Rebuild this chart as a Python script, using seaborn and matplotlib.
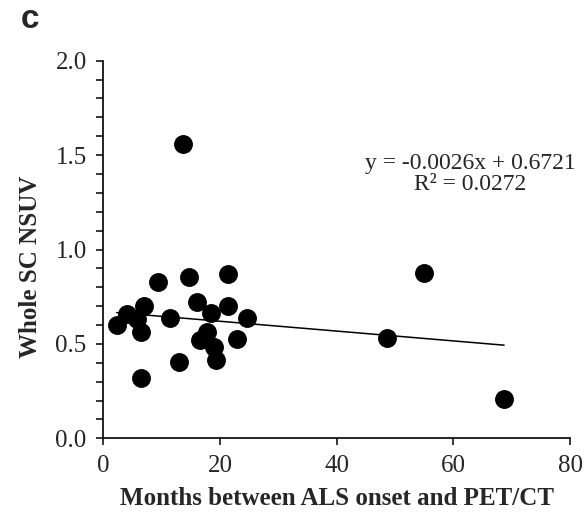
import matplotlib
matplotlib.use("Agg")
import matplotlib.pyplot as plt
from matplotlib.ticker import MultipleLocator, FormatStrFormatter
import seaborn as sns
import pandas as pd
import numpy as np

# months between ALS onset and PET/CT vs whole spinal cord NSUV
months = [2.3, 4.1, 5.7, 7.0, 6.5, 6.5, 9.4, 11.4, 12.9, 13.7,
          14.75, 16.0, 16.6, 17.7, 18.4, 18.9, 19.3, 21.3, 21.3, 22.9,
          24.6, 48.6, 54.9, 68.7]
nsuv = [0.60, 0.66, 0.63, 0.70, 0.565, 0.32, 0.83, 0.64, 0.405, 1.56,
        0.856, 0.72, 0.52, 0.565, 0.665, 0.485, 0.415, 0.87, 0.70, 0.524,
        0.636, 0.53, 0.877, 0.207]

slope = -0.0026
intercept = 0.6721
r_squared = 0.0272

df = pd.DataFrame({"months": months, "nsuv": nsuv})
fit_x = np.array([min(months), max(months)])
fit = pd.DataFrame({"months": fit_x, "nsuv": slope * fit_x + intercept})

sns.set_style("ticks")
plt.rcParams["font.family"] = ["Liberation Serif", "DejaVu Serif"]

fig = plt.figure(figsize=(5.88, 5.2), dpi=100)
ax = fig.add_axes([0.1757, 0.157, 0.7937, 0.7263])

sns.lineplot(data=fit, x="months", y="nsuv", ax=ax, color="black", linewidth=1.1)
sns.scatterplot(data=df, x="months", y="nsuv", ax=ax, color="black",
                s=185, linewidth=0, zorder=3)

ax.set_xlim(0, 80)
ax.set_ylim(0, 2.0)
ax.xaxis.set_major_locator(MultipleLocator(20))
ax.yaxis.set_major_locator(MultipleLocator(0.5))
ax.yaxis.set_minor_locator(MultipleLocator(0.1))
ax.yaxis.set_major_formatter(FormatStrFormatter("%.1f"))
ax.tick_params(axis="both", which="both", direction="out", length=5,
               width=1.1, color="black", labelsize=18, pad=7)
for side in ["left", "bottom"]:
    ax.spines[side].set_linewidth(1.2)
    ax.spines[side].set_color("black")
sns.despine(ax=ax)

ax.set_xlabel("Months between ALS onset and PET/CT", fontsize=18,
              fontweight="bold", labelpad=7)
ax.set_ylabel("Whole SC NSUV", fontsize=18, fontweight="bold")
ax.yaxis.set_label_coords(-0.131, 0.455)

ax.text(0.786, 0.70, f"y = {slope}x + {intercept}\nR² = {r_squared}",
        transform=ax.transAxes, ha="center", va="center", fontsize=17,
        linespacing=1.05)

fig.text(0.035, 0.962, "c", fontsize=24, fontweight="bold",
         family="Liberation Sans", ha="left", va="center")

fig.savefig("out.png", dpi=100)
